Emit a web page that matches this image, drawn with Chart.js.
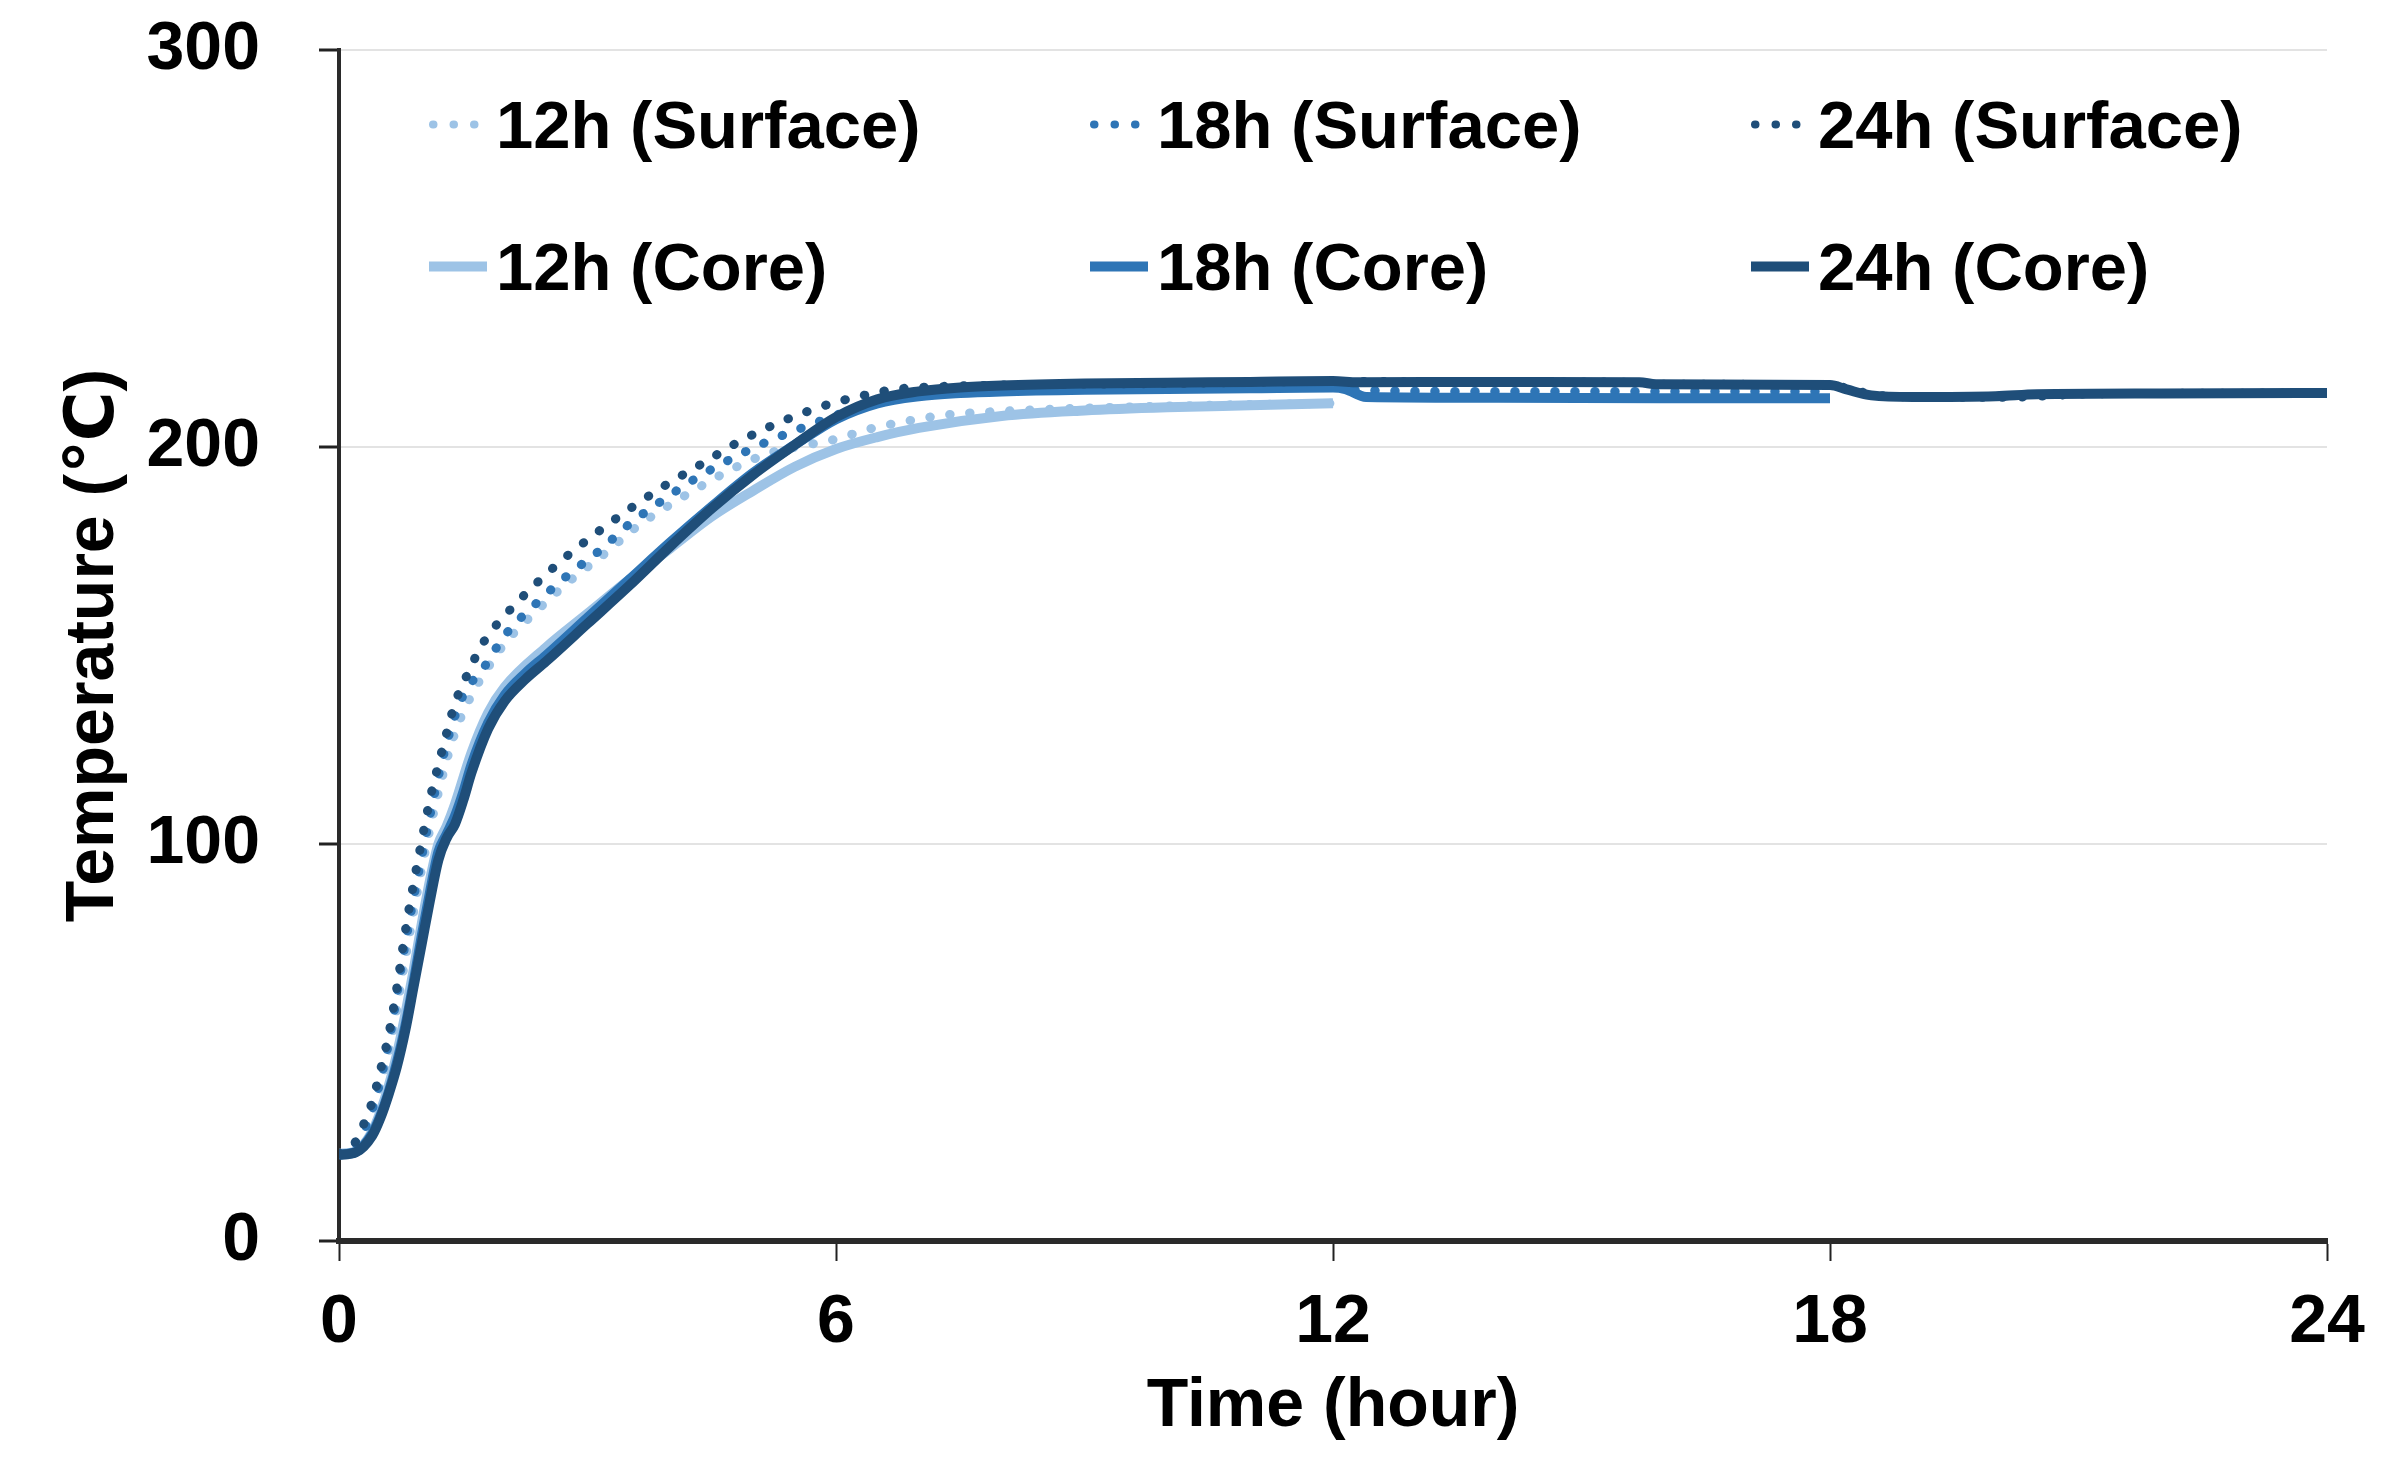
<!DOCTYPE html>
<html>
<head>
<meta charset="utf-8">
<title>Temperature vs time</title>
<script src="https://cdn.jsdelivr.net/npm/chart.js@4.4.1/dist/chart.umd.min.js"></script>
<style>
    html, body { margin: 0; padding: 0; background: #fff; }
    #wrap { position: relative; width: 2396px; height: 1475px; }
    #legend .item {
        position: absolute;
        display: flex;
        align-items: center;
        transform: translateY(-50%);
        font: bold 67px "Liberation Sans", Arial, sans-serif;
        line-height: 67px;
        color: #000;
        white-space: nowrap;
    }
    #legend svg { display: block; flex: none; }
</style>
</head>
<body>
<div id="wrap">
    <canvas id="chart"></canvas>
    <div id="legend"></div>
</div>
<script>
// Tick labels
const xTicks = [0, 6, 12, 18, 24];
const yTicks = [0, 100, 200, 300];

// 12h (Surface)
const hours12Surface = [0, 0.2, 0.4, 0.6, 0.8, 1.0, 1.2, 1.4, 1.6, 1.8, 2.0, 2.4, 2.8, 3.2, 3.6, 4.0, 4.4, 4.8, 5.2, 5.6, 6.0, 6.4, 6.8, 7.3, 8, 9, 10, 11, 12];
const temp12Surface = [22, 24.5, 32, 47, 71, 94, 113, 128, 137.5, 144.5, 150.5, 159, 166.5, 173, 180, 185.5, 190.5, 195, 198.5, 200.3, 202, 204.5, 206.3, 208, 209, 209.8, 210.3, 210.7, 211];

// 18h (Surface)
const hours18Surface = [0, 0.2, 0.4, 0.6, 0.8, 1.0, 1.2, 1.35, 1.5, 1.75, 2.0, 2.4, 2.75, 3.15, 3.5, 3.9, 4.3, 4.75, 5.2, 5.6, 6.0, 6.4, 6.8, 7.5, 8.5, 10, 12, 12.3, 14, 16, 18];
const temp18Surface = [22, 24.5, 33, 50, 75, 97, 117, 129, 137.5, 144.5, 152.5, 161, 167.5, 174, 180.5, 186.5, 192, 197.2, 201.6, 204.9, 208, 211, 213, 214, 214.6, 215, 215.3, 214.3, 214, 214, 214];

// 24h (Surface)
const hours24Surface = [0, 0.2, 0.3, 0.4, 0.5, 0.6, 0.7, 0.8, 0.9, 1.0, 1.1, 1.2, 1.3, 1.4, 1.5, 1.75, 2.0, 2.4, 2.75, 3.15, 3.55, 3.95, 4.4, 4.8, 5.25, 5.7, 6.0, 6.4, 6.7, 7, 8, 10, 12, 14, 15.7, 16, 18, 18.3, 18.7, 19.5, 20.3, 21, 22, 24];
const temp24Surface = [22, 25, 29.5, 35, 43, 52, 64, 78, 90, 101, 111.5, 120, 128, 135.5, 140.5, 151, 157.5, 166, 172.5, 179, 185, 190.5, 196, 201, 205.6, 209.3, 211.3, 213.3, 214.5, 215, 215.6, 216, 216.5, 216.4, 216.3, 215.8, 215.7, 214.2, 212.8, 212.5, 212.6, 213.3, 213.5, 213.6];

// 12h (Core)
const hours12Core = [0, 0.2, 0.4, 0.5, 0.6, 0.7, 0.8, 0.9, 1.0, 1.1, 1.2, 1.3, 1.4, 1.6, 1.8, 2.0, 2.5, 3.0, 3.5, 4.0, 4.5, 5.0, 5.5, 6.0, 6.5, 7.0, 8, 9, 10, 11, 12];
const temp12Core = [22, 22.6, 27.5, 32.5, 39, 47, 57, 68, 80, 91, 100, 104.5, 110, 123, 133, 139.5, 149.5, 158, 166.5, 174.5, 182.5, 189, 195, 199.5, 202.5, 204.8, 207.8, 209.2, 210, 210.5, 211];

// 18h (Core)
const hours18Core = [0, 0.2, 0.4, 0.5, 0.6, 0.7, 0.8, 0.9, 1.0, 1.1, 1.2, 1.3, 1.4, 1.5, 1.6, 1.8, 2.0, 2.25, 2.5, 3.0, 3.5, 4.0, 4.5, 5.0, 5.5, 6.0, 6.5, 7.0, 7.5, 8, 9, 10, 11, 12, 12.15, 12.4, 14, 16, 18];
const temp18Core = [21.8, 22.4, 27, 31.5, 37.5, 45, 54, 65, 77, 88, 98, 102.5, 107, 113, 120, 130.5, 137.5, 143, 147.5, 157, 166.5, 176, 185, 193.5, 200.5, 207, 211, 212.8, 213.6, 214, 214.4, 214.6, 214.8, 215, 214.6, 212.6, 212.4, 212.3, 212.3];

// 24h (Core)
const hours24Core = [0, 0.2, 0.4, 0.5, 0.6, 0.7, 0.8, 0.9, 1.0, 1.1, 1.2, 1.3, 1.4, 1.5, 1.6, 1.8, 2.0, 2.25, 2.5, 3.0, 3.5, 4.0, 4.5, 5.0, 5.5, 6.0, 6.5, 7.0, 7.5, 8, 9, 10, 11, 12, 12.3, 14, 15.7, 15.9, 18, 18.2, 18.5, 19, 20, 20.5, 22, 24];
const temp24Core = [21.7, 22.3, 26.5, 31, 37, 44, 53, 64, 75, 86, 96, 101.5, 105, 111, 118, 129, 136, 141.5, 146, 155.5, 165, 175, 184.5, 193, 200.5, 207.5, 212, 214, 215, 215.5, 216, 216.2, 216.4, 216.6, 216.3, 216.4, 216.3, 215.8, 215.6, 214.5, 213, 212.6, 212.8, 213.3, 213.5, 213.6];

const LIGHT = "#9dc3e6";
const MEDIUM = "#2e75b6";
const DARK = "#1f4e79";

const FONT = '"Liberation Sans", Arial, "DejaVu Sans", sans-serif';
Chart.defaults.font.family = FONT;
Chart.defaults.color = "#000";

const toPoints = (hours, temps) => hours.map((h, i) => ({ x: h, y: temps[i] }));

function surface(label, hours, temps, color, order) {
    return {
        label,
        data: toPoints(hours, temps),
        borderColor: color,
        borderWidth: 9,
        borderDash: [0.5, 19.5],
        borderCapStyle: "round",
        dotted: true,
        order,
    };
}

function core(label, hours, temps, color, order) {
    return {
        label,
        data: toPoints(hours, temps),
        borderColor: color,
        borderWidth: 10,
        borderCapStyle: "butt",
        dotted: false,
        order,
    };
}

// legend order: surfaces on the first row, cores on the second
const datasets = [
    surface("12h (Surface)", hours12Surface, temp12Surface, LIGHT, 6),
    surface("18h (Surface)", hours18Surface, temp18Surface, MEDIUM, 4),
    surface("24h (Surface)", hours24Surface, temp24Surface, DARK, 2),
    core("12h (Core)", hours12Core, temp12Core, LIGHT, 5),
    core("18h (Core)", hours18Core, temp18Core, MEDIUM, 3),
    core("24h (Core)", hours24Core, temp24Core, DARK, 1),
];

const tickFont = { size: 68, weight: "bold" };

new Chart(document.getElementById("chart"), {
    type: "line",
    data: { datasets },
    options: {
        responsive: true,
        maintainAspectRatio: false,
        animation: false,
        layout: { padding: { left: 0, right: 69, top: 50, bottom: 0 } },
        elements: {
            point: { radius: 0, hoverRadius: 0 },
            line: { cubicInterpolationMode: "monotone", borderJoinStyle: "round", fill: false },
        },
        plugins: {
            legend: { display: false },
            tooltip: { enabled: false },
        },
        scales: {
            x: {
                type: "linear",
                min: 0,
                max: 24,
                afterBuildTicks: (scale) => {
                    scale.ticks = xTicks.map((v) => ({ value: v }));
                },
                afterFit: (scale) => {
                    scale.height = 234;
                    scale.paddingLeft = 0;
                    scale.paddingRight = 0;
                },
                ticks: { font: tickFont, color: "#000", padding: 21, maxRotation: 0, autoSkip: false },
                grid: { drawOnChartArea: false, tickLength: 20, tickColor: "#222", tickWidth: 2 },
                border: { color: "#2a2a2a", width: 6 },
                title: {
                    display: true,
                    text: "Time (hour)",
                    font: tickFont,
                    color: "#000",
                    padding: { top: 0, bottom: 27 },
                },
            },
            y: {
                type: "linear",
                min: 0,
                max: 300,
                afterBuildTicks: (scale) => {
                    scale.ticks = yTicks.map((v) => ({ value: v }));
                },
                afterFit: (scale) => {
                    scale.width = 339;
                    scale.paddingTop = 0;
                    scale.paddingBottom = 0;
                },
                ticks: { font: tickFont, color: "#000", padding: 59 },
                grid: {
                    color: (ctx) => (ctx.tick && ctx.tick.value === 0 ? "rgba(0,0,0,0)" : "#e3e3e3"),
                    lineWidth: 2,
                    tickLength: 20,
                    tickColor: "#222",
                    tickWidth: 3,
                },
                border: { color: "#2a2a2a", width: 4 },
                title: {
                    display: true,
                    text: "Temperature (℃)",
                    font: tickFont,
                    color: "#000",
                    padding: { top: 53, bottom: 0 },
                },
            },
        },
    },
});

// HTML legend inside the plot area, 3 columns x 2 rows
function renderLegend() {
    const container = document.getElementById("legend");
    const colLeft = [425, 1086, 1747];
    const rowCenter = [124, 266];

    container.innerHTML = datasets
        .map((d, i) => {
            const col = i % 3;
            const row = Math.floor(i / 3);
            const sample = d.dotted
                ? `<line x1="8" y1="10" x2="50" y2="10" stroke="${d.borderColor}" stroke-width="8" stroke-dasharray="0.5 20" stroke-linecap="round"/>`
                : `<line x1="4" y1="10" x2="62" y2="10" stroke="${d.borderColor}" stroke-width="10"/>`;
            return `
        <div class="item" style="left:${colLeft[col]}px; top:${rowCenter[row]}px">
            <svg width="71" height="20" viewBox="0 0 71 20">${sample}</svg>
            <span>${d.label}</span>
        </div>`;
        })
        .join("");
}

renderLegend();
</script>
</body>
</html>
